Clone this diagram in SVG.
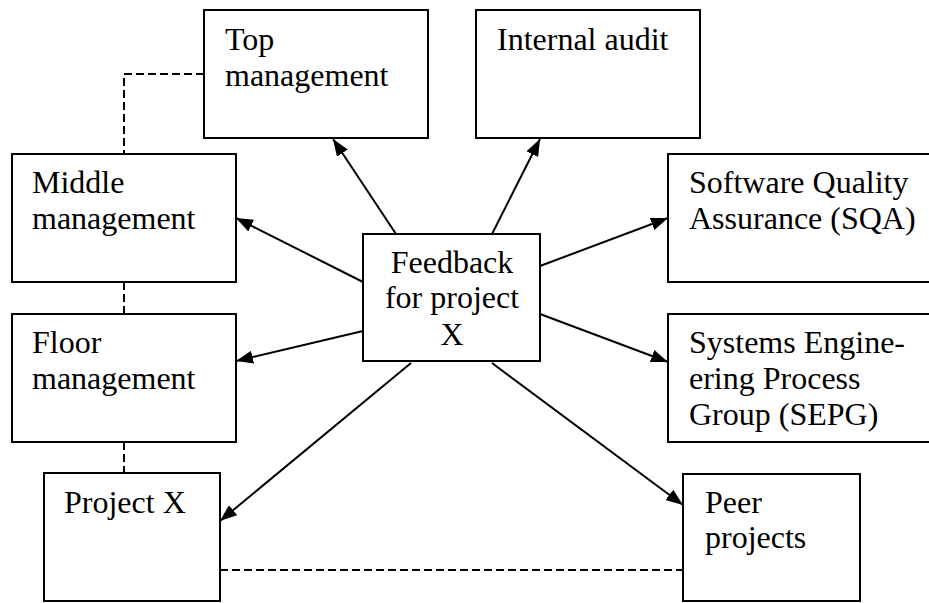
<svg xmlns="http://www.w3.org/2000/svg" width="929" height="603" viewBox="0 0 929 603">
<defs>
<style>
.box{fill:#fff;stroke:#000;stroke-width:2}
.t{font-family:"Liberation Serif","Times New Roman",serif;font-size:32px;fill:#000}
.c{text-anchor:middle}
.arr{stroke:#000;stroke-width:2;fill:none;marker-end:url(#ah)}
.dash{stroke:#000;stroke-width:2;fill:none;stroke-dasharray:8,4}
</style>
<marker id="ah" markerUnits="userSpaceOnUse" markerWidth="17" markerHeight="13" viewBox="0 0 17 13" refX="17" refY="6.5" orient="auto">
<path d="M0,0 L17,6.5 L0,13 Z" fill="#000"/>
</marker>
</defs>
<rect width="929" height="603" fill="#fff"/>
<g id="connectors">
<path class="dash" d="M204,74 H124 V154"/>
<path class="dash" d="M124,282 V314"/>
<path class="dash" d="M124,442 V473"/>
<path class="dash" d="M220,570 H683"/>
<line class="arr" x1="396" y1="234" x2="333" y2="139"/>
<line class="arr" x1="492" y1="234" x2="540" y2="139"/>
<line class="arr" x1="363" y1="282" x2="236" y2="218"/>
<line class="arr" x1="540" y1="266" x2="668" y2="218"/>
<line class="arr" x1="363" y1="331" x2="236" y2="361"/>
<line class="arr" x1="540" y1="314" x2="668" y2="362"/>
<line class="arr" x1="411" y1="363" x2="220" y2="521"/>
<line class="arr" x1="492" y1="363" x2="683" y2="505"/>
</g>
<g id="top-management">
<rect class="box" x="204" y="10" width="224" height="128"/>
<text class="t" x="225" y="50">Top</text>
<text class="t" x="225" y="86">management</text>
</g>
<g id="internal-audit">
<rect class="box" x="476" y="10" width="224" height="128"/>
<text class="t" x="497" y="50">Internal audit</text>
</g>
<g id="middle-management">
<rect class="box" x="12" y="154" width="224" height="128"/>
<text class="t" x="32" y="193">Middle</text>
<text class="t" x="32" y="229">management</text>
</g>
<g id="sqa">
<rect class="box" x="668" y="154" width="280" height="128"/>
<text class="t" x="689" y="193">Software Quality</text>
<text class="t" x="689" y="229">Assurance (SQA)</text>
</g>
<g id="feedback">
<rect class="box" x="363" y="234" width="177" height="127"/>
<text class="t c" x="452" y="273">Feedback</text>
<text class="t c" x="452" y="308">for project</text>
<text class="t c" x="452" y="345">X</text>
</g>
<g id="floor-management">
<rect class="box" x="12" y="314" width="224" height="128"/>
<text class="t" x="32" y="353">Floor</text>
<text class="t" x="32" y="389">management</text>
</g>
<g id="sepg">
<rect class="box" x="668" y="314" width="280" height="128"/>
<text class="t" x="689" y="353">Systems Engine-</text>
<text class="t" x="689" y="389">ering Process</text>
<text class="t" x="689" y="425">Group (SEPG)</text>
</g>
<g id="project-x">
<rect class="box" x="44" y="473" width="176" height="128"/>
<text class="t" x="64" y="513">Project X</text>
</g>
<g id="peer-projects">
<rect class="box" x="683" y="474" width="177" height="127"/>
<text class="t" x="705" y="513">Peer</text>
<text class="t" x="705" y="548">projects</text>
</g>
</svg>
